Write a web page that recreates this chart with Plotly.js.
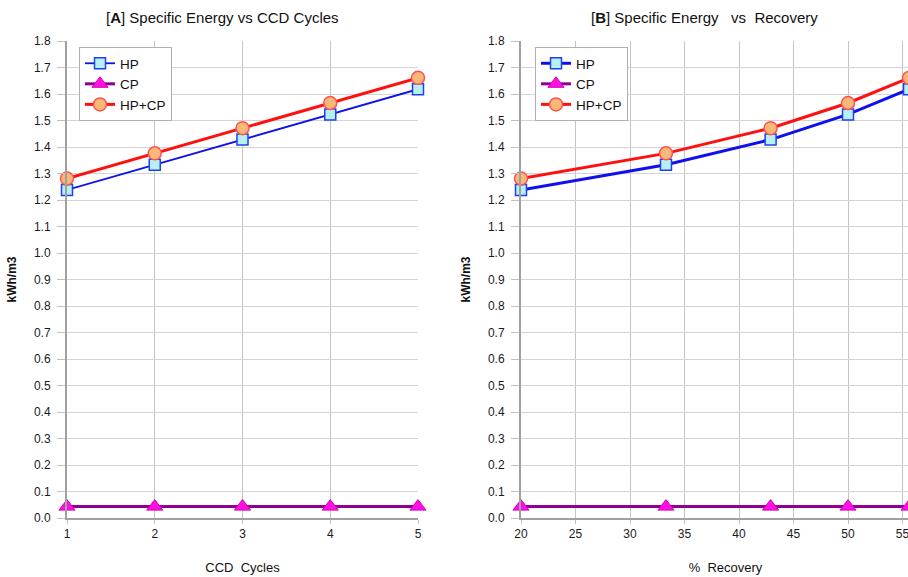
<!DOCTYPE html>
<html>
<head>
<meta charset="utf-8">
<script src="https://cdn.plot.ly/plotly-3.0.1.min.js"></script>
<style>html,body{margin:0;padding:0;background:#fff;overflow:hidden;width:908px;height:577px;}#chart{width:930px;height:577px;}</style>
</head>
<body>
<div id="chart"></div>
<script>
// Data
const ccdCycles = [1, 2, 3, 4, 5];
const recovery = [20, 33.3, 42.9, 50, 55.6];
const hp = [1.238, 1.333, 1.428, 1.523, 1.618];
const cp = [0.043, 0.043, 0.043, 0.043, 0.043];
const hpcp = [1.281, 1.376, 1.471, 1.566, 1.661];
const seriesNames = ['HP', 'CP', 'HP+CP'];
const yTicks = [0,0.1,0.2,0.3,0.4,0.5,0.6,0.7,0.8,0.9,1.0,1.1,1.2,1.3,1.4,1.5,1.6,1.7,1.8];

const FONT = 'Liberation Sans, Arial, sans-serif';
const W = 930, H = 577;

function mk(x, xa, ya, lg, blueW) {
  return [
    {x: x, y: hp, name: seriesNames[0], xaxis: xa, yaxis: ya, legend: lg, mode: 'lines+markers', cliponaxis: false,
     line: {color: '#1010ee', width: blueW},
     marker: {symbol: 'square', size: 11, color: '#b4f0f4', line: {color: '#2040f0', width: 1.5}}},
    {x: x, y: cp, name: seriesNames[1], xaxis: xa, yaxis: ya, legend: lg, mode: 'lines+markers', cliponaxis: false,
     line: {color: '#900090', width: 3},
     marker: {symbol: 'triangle-up', size: 14, color: '#ff10e0', line: {color: '#d000c0', width: 1}}},
    {x: x, y: hpcp, name: seriesNames[2], xaxis: xa, yaxis: ya, legend: lg, mode: 'lines+markers', cliponaxis: false,
     line: {color: '#ff1010', width: 3},
     marker: {symbol: 'circle', size: 13, color: '#f8b878', line: {color: '#ff5050', width: 1.5}}}
  ];
}

const data = [].concat(mk(ccdCycles, 'x', 'y', 'legend', 1.8), mk(recovery, 'x2', 'y2', 'legend2', 3));

const yCommon = {
  range: [0, 1.8], tickvals: yTicks, tickformat: '.1f',
  showgrid: true, gridcolor: '#d4d4d4', gridwidth: 1,
  showline: true, linecolor: '#a0a0a0', linewidth: 2,
  ticks: 'outside', ticklen: 8, tickcolor: '#c0c0c0',
  ticklabelstandoff: 4,
  tickfont: {family: FONT, size: 12, color: '#1a1a1a'},
  zeroline: false, fixedrange: true
};
const xCommon = {
  showgrid: true, gridcolor: '#c4c4c4', gridwidth: 1,
  showline: true, linecolor: '#a0a0a0', linewidth: 2,
  ticks: 'outside', ticklen: 4, tickcolor: '#c0c0c0',
  tickfont: {family: FONT, size: 12, color: '#1a1a1a'},
  ticklabeloverflow: 'allow',
  zeroline: false, fixedrange: true
};

const legendCommon = {
  bgcolor: '#ffffff', bordercolor: '#b0b0b0', borderwidth: 1,
  font: {family: FONT, size: 13.5, color: '#111'},
  xanchor: 'left', yanchor: 'top', tracegroupgap: 0, itemwidth: 30
};

const plotH = H - 41 - 59;
const layout = {
  width: W, height: H,
  margin: {l: 0, r: 0, t: 41, b: 59},
  paper_bgcolor: '#fff', plot_bgcolor: '#fff',
  showlegend: true,
  xaxis: Object.assign({}, xCommon, {domain: [67/W, 418/W], range: [1, 5], dtick: 1, tick0: 1,
    title: {text: 'CCD  Cycles', font: {family: FONT, size: 13, color: '#111'}, standoff: 22}}),
  yaxis: Object.assign({}, yCommon, {anchor: 'x',
    title: {text: '<b>kWh/m3</b>', font: {family: FONT, size: 12, color: '#111'}, standoff: 15}}),
  xaxis2: Object.assign({}, xCommon, {domain: [521/W, 1], range: [20, 20 + (W - 521) / 10.9], dtick: 5, tick0: 20, anchor: 'y2',
    title: {text: '%  Recovery', font: {family: FONT, size: 13, color: '#111'}, standoff: 22}}),
  yaxis2: Object.assign({}, yCommon, {anchor: 'x2',
    title: {text: '<b>kWh/m3</b>', font: {family: FONT, size: 12, color: '#111'}, standoff: 15}}),
  legend: Object.assign({}, legendCommon, {x: 79/W, y: 1 - (47 - 41) / plotH}),
  legend2: Object.assign({}, legendCommon, {x: 535/W, y: 1 - (47 - 41) / plotH}),
  annotations: [
    {text: '[<b>A</b>] Specific Energy vs CCD Cycles', x: 222/W, y: 1 + (41 - 18) / plotH, xref: 'paper', yref: 'paper',
     xanchor: 'center', yanchor: 'middle', showarrow: false, font: {family: FONT, size: 15, color: '#111'}},
    {text: '[<b>B</b>] Specific Energy \u00a0 vs \u00a0Recovery', x: 704/W, y: 1 + (41 - 18) / plotH, xref: 'paper', yref: 'paper',
     xanchor: 'center', yanchor: 'middle', showarrow: false, font: {family: FONT, size: 15, color: '#111'}}
  ]
};

Plotly.newPlot('chart', data, layout, {staticPlot: true, displayModeBar: false});
</script>
</body>
</html>
